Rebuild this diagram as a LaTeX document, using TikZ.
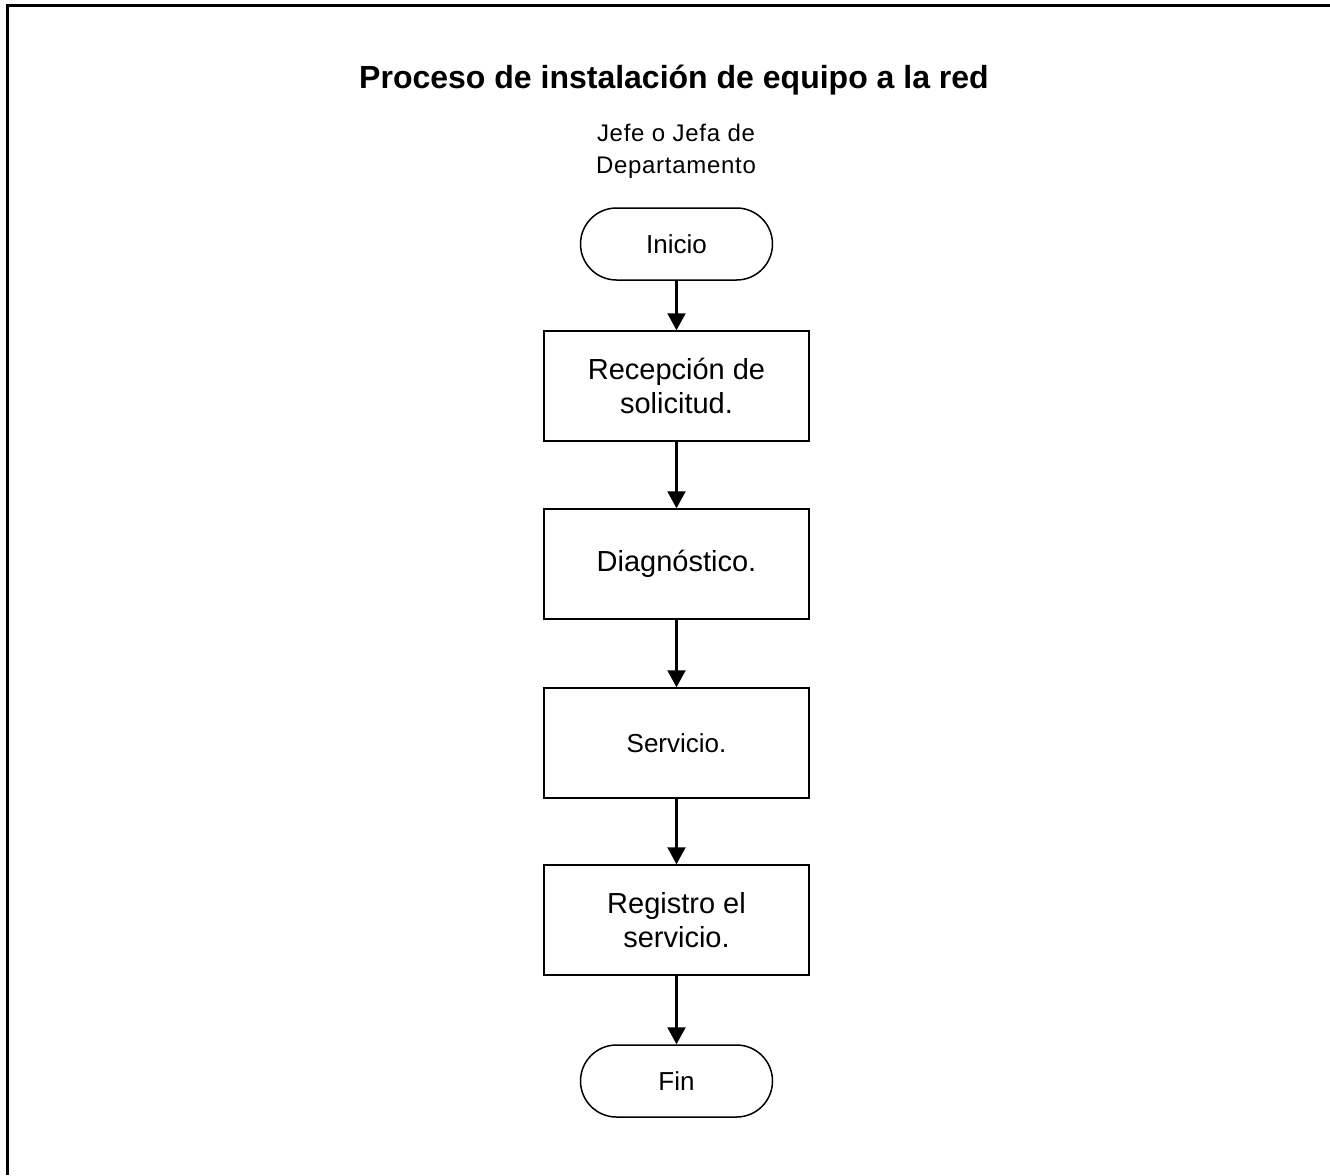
\documentclass[tikz,border=0pt]{standalone}
\usepackage{fontspec}
\setmainfont{Liberation Sans}
\usetikzlibrary{arrows.meta}
\tikzset{
  term/.style={draw, line width=1.5pt, rounded corners=36pt, minimum width=192pt, minimum height=72pt, inner sep=0pt, font=\fontsize{26}{30}\selectfont},
  proc/.style={draw, line width=1.5pt, minimum width=265pt, minimum height=110pt, inner sep=0pt, align=center, font=\fontsize{29}{34}\selectfont},
  flow/.style={line width=2.2pt, -{Triangle[length=17pt,width=18pt]}},
}
\begin{document}
\begin{tikzpicture}[x=1pt,y=-1pt]
\useasboundingbox (0,0) rectangle (1330,1175);
\draw[line width=2.5pt] (7.5,1175) -- (7.5,5.5) -- (1332,5.5);
\node[font=\fontsize{32}{38}\selectfont\bfseries] (title) at (674,80) {Proceso de instalación de equipo a la red};
\node[align=center, font=\fontsize{24}{32}\selectfont\addfontfeatures{LetterSpace=3}] (role) at (676,151) {Jefe o Jefa de\\Departamento};
\node[term] (ini) at (676.5,244) {Inicio};
\node[proc] (rec) at (676.5,386) {Recepción de\\solicitud.};
\node[proc] (dia) at (676.5,564) {Diagnóstico.};
\node[proc, font=\fontsize{26}{30}\selectfont] (ser) at (676.5,743) {Servicio.};
\node[proc] (reg) at (676.5,920) {Registro el\\servicio.};
\node[term] (fin) at (676.5,1081) {Fin};
\draw[flow] (ini) -- (rec);
\draw[flow] (rec) -- (dia);
\draw[flow] (dia) -- (ser);
\draw[flow] (ser) -- (reg);
\draw[flow] (reg) -- (fin);
\end{tikzpicture}
\end{document}
